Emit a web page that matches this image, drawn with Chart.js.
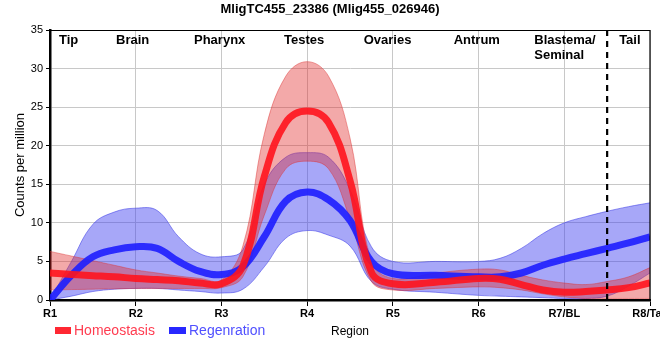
<!DOCTYPE html>
<html><head><meta charset="utf-8">
<script src="https://cdn.jsdelivr.net/npm/chart.js@4/dist/chart.umd.min.js"></script>
<style>html,body{margin:0;padding:0;background:#fff}#wrap{width:660px;height:360px}</style>
</head><body><div id="wrap"><canvas id="c" width="660" height="360"></canvas></div>
<script>
const chartTitle = 'MligTC455_23386 (Mlig455_026946)';
const xAxisTitle = 'Region';
const yAxisTitle = 'Counts per million';
const tickLabels = ['R1','R2','R3','R4','R5','R6','R7/BL','R8/Tail'];
const regionNames = ['Tip','Brain','Pharynx','Testes','Ovaries','Antrum','Blastema/\nSeminal','Tail'];
const dividerAt = 6.5;
const seriesNames = ['Homeostasis','Regenration'];
const yTicks = [0,5,10,15,20,25,30,35];

const xs          = [0,0.25,0.5,0.75,1,1.25,1.5,1.75,2,2.25,2.5,2.75,3,3.25,3.5,3.75,4,4.5,5,5.25,5.5,5.75,6,6.25,6.5,6.75,7];
const homeoMean   = [3.5,3.3,3.15,3.0,2.8,2.65,2.5,2.2,2.1,4.4,16.0,23.0,24.5,23.0,15.5,3.6,2.1,2.3,2.8,2.7,2.0,1.3,1.0,1.1,1.3,1.6,2.2];
const homeoUpper  = [6.3,5.7,5.1,4.5,3.9,3.5,3.1,2.8,2.6,7.0,21.5,29.0,30.9,29.0,21.0,5.0,2.8,3.5,4.0,3.9,3.2,2.6,2.2,2.0,2.4,3.0,4.2];
const homeoLower  = [1.3,1.35,1.4,1.45,1.5,1.5,1.5,1.5,1.6,3.0,11.0,17.0,18.0,17.0,10.5,2.4,1.3,1.5,1.7,1.6,1.3,0.8,0.4,0.2,0.2,0.2,0.2];
const regenMean   = [0,3.2,5.6,6.5,6.9,6.7,5.0,3.7,3.3,4.3,8.2,12.8,14.0,13.0,10.3,5.0,3.4,3.2,3.0,3.0,3.5,4.5,5.3,6.0,6.7,7.4,8.2];
const regenUpper  = [0,5.0,9.8,11.4,11.9,11.6,8.2,6.0,5.6,6.5,15.0,18.5,19.1,18.5,14.3,6.9,5.0,5.0,5.0,5.4,6.7,8.6,10.0,10.8,11.5,12.1,12.6];
const regenLower  = [0,0.5,1.1,1.4,1.5,1.5,1.3,1.1,0.9,1.4,4.3,8.0,9.0,8.4,7.0,2.4,1.4,1.0,0.6,0.5,0.4,0.3,0.2,0.2,0.5,1.8,3.5];

const pts = arr => xs.map((x,i)=>({x:x,y:arr[i]}));
const RED = 'rgba(255,20,30,0.9)';
const BLUE = 'rgba(30,30,255,0.9)';
const FONT = "'Liberation Sans', Arial, sans-serif";
Chart.defaults.font.family = FONT;

const common = {pointRadius:0, pointHoverRadius:0, tension:0.4};

const decor = {
  id:'decor',
  afterDraw(chart){
    const ctx = chart.ctx, a = chart.chartArea, xs_ = chart.scales.x;
    ctx.save();
    ctx.strokeStyle = '#000'; ctx.lineWidth = 1.2;
    ctx.beginPath(); ctx.moveTo(a.left, a.top+0.5); ctx.lineTo(a.right, a.top+0.5); ctx.lineTo(a.right, a.bottom); ctx.stroke();
    const dx = xs_.getPixelForValue(dividerAt);
    ctx.lineWidth = 2.2; ctx.setLineDash([6,5]);
    ctx.beginPath(); ctx.moveTo(dx, a.top); ctx.lineTo(dx, a.bottom+6); ctx.stroke();
    ctx.setLineDash([]);
    ctx.fillStyle = '#000'; ctx.textAlign = 'center'; ctx.textBaseline = 'alphabetic';
    ctx.font = 'bold 13px ' + FONT;
    ctx.fillText(chartTitle, 330, 13);
    const regionAt = [0.105,0.77,1.68,2.73,3.66,4.71,5.65,6.64];
    ctx.font = 'bold 13px ' + FONT; ctx.textAlign = 'left';
    regionNames.forEach((n,i)=>{
      const px = xs_.getPixelForValue(regionAt[i]);
      n.split('\n').forEach((line,j)=>ctx.fillText(line, px, 44 + j*15));
    });
    ctx.font = '12px ' + FONT; ctx.textAlign = 'center';
    ctx.fillText(xAxisTitle, (a.left+a.right)/2, 335);
    ctx.save(); ctx.translate(20, 165); ctx.rotate(-Math.PI/2);
    ctx.font = '13px ' + FONT; ctx.textBaseline = 'middle';
    ctx.fillText(yAxisTitle, 0, 0); ctx.restore();
    const legend = [{c:'rgb(255,40,50)', t:'rgb(255,60,80)', box:[55,327,16,7], tx:74},
                    {c:'rgb(40,40,255)', t:'rgb(80,80,255)', box:[169,327,17,7], tx:189}];
    ctx.font = '14px ' + FONT; ctx.textAlign = 'left'; ctx.textBaseline = 'alphabetic';
    legend.forEach((l,i)=>{
      ctx.fillStyle = l.c; ctx.fillRect(...l.box);
      ctx.fillStyle = l.t; ctx.fillText(seriesNames[i], l.tx, 335);
    });
    ctx.restore();
  }
};

new Chart(document.getElementById('c'), {
  type:'line',
  data:{datasets:[
    {label:seriesNames[0], data:pts(homeoMean), borderColor:RED, borderWidth:7, fill:false, ...common},
    {label:seriesNames[1], data:pts(regenMean), borderColor:BLUE, borderWidth:7, fill:false, ...common},
    {label:'h_up', data:pts(homeoUpper), borderColor:'rgba(220,50,50,0.45)', borderWidth:1, fill:'+1', backgroundColor:'rgba(225,40,40,0.4)', ...common},
    {label:'h_lo', data:pts(homeoLower), borderColor:'rgba(220,50,50,0.45)', borderWidth:1, fill:false, ...common},
    {label:'r_up', data:pts(regenUpper), borderColor:'rgba(60,60,230,0.55)', borderWidth:1, fill:'+1', backgroundColor:'rgba(60,60,240,0.45)', ...common},
    {label:'r_lo', data:pts(regenLower), borderColor:'rgba(60,60,230,0.55)', borderWidth:1, fill:false, ...common}
  ]},
  options:{
    responsive:false, animation:false, devicePixelRatio:1,
    layout:{padding:{left:0,right:10,top:30,bottom:0}, autoPadding:false},
    plugins:{legend:{display:false}, tooltip:{enabled:false}, title:{display:false}},
    scales:{
      x:{type:'linear', min:0, max:7,
        afterBuildTicks: s => { s.ticks = tickLabels.map((_,i)=>({value:i})); },
        afterFit: s => { s.height = 60; s.paddingLeft = 0; s.paddingRight = 0; },
        ticks:{callback:v=>tickLabels[v] ?? '', autoSkip:false, maxRotation:0, minRotation:0, color:'#000', font:{size:11, weight:'bold'}, padding:1},
        grid:{color:'#c8c8c8', lineWidth:1, tickColor:'#000', tickLength:6},
        border:{color:'#000', width:2.5}},
      y:{min:0, max:35,
        afterBuildTicks: s => { s.ticks = yTicks.map(v=>({value:v})); },
        afterFit: s => { s.width = 50; s.paddingTop = 0; s.paddingBottom = 0; },
        ticks:{color:'#000', font:{size:11}, padding:3},
        grid:{color:'#c8c8c8', lineWidth:1, tickColor:'#000', tickLength:4},
        border:{color:'#000', width:2.5}}
    }
  },
  plugins:[decor]
});
</script></body></html>
